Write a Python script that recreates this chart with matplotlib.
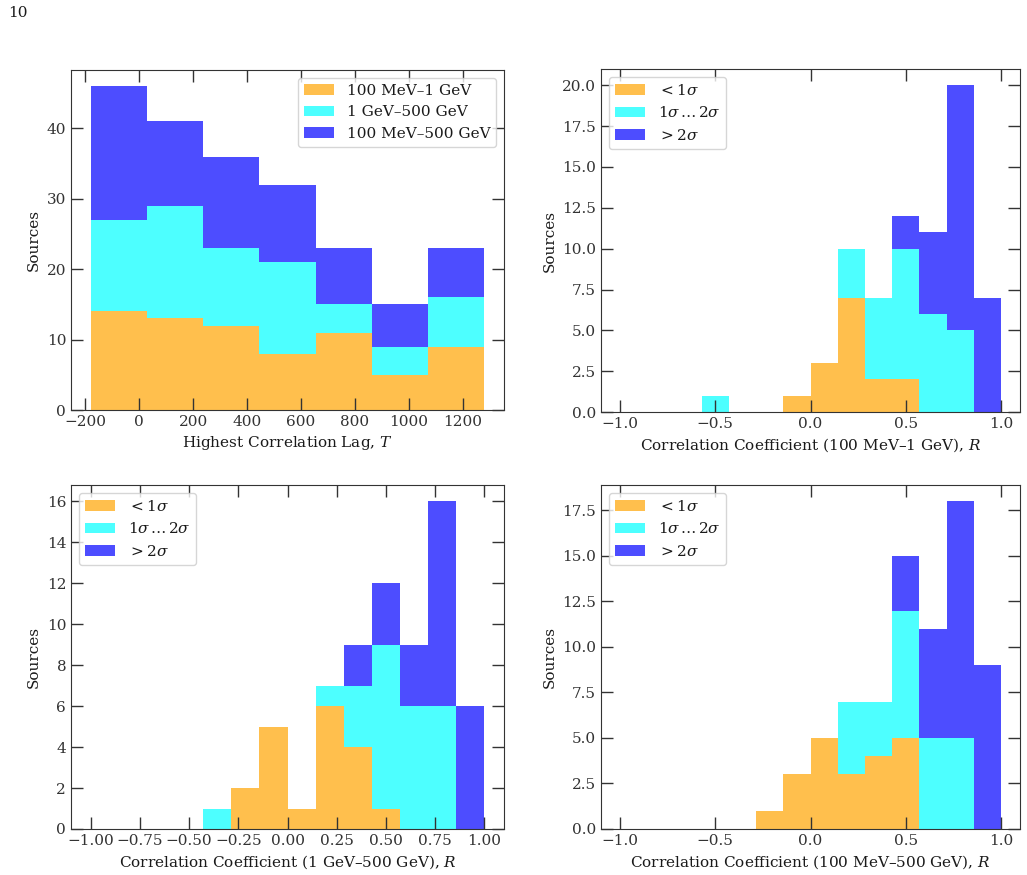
import numpy as np
import matplotlib.pyplot as plt

plt.rcParams['font.family'] = 'DejaVu Serif'
plt.rcParams['mathtext.fontset'] = 'dejavuserif'
plt.rcParams['font.size'] = 11
plt.rcParams['axes.edgecolor'] = '0.2'
plt.rcParams['xtick.color'] = '0.2'
plt.rcParams['ytick.color'] = '0.2'
plt.rcParams['text.color'] = '0.1'
plt.rcParams['axes.labelcolor'] = '0.1'

# highest correlation lag, T (7 bins)
lag_edges = np.linspace(-180, 1280, 8)
lag_low = [14, 13, 12, 8, 11, 5, 9]      # 100 MeV-1 GeV
lag_high = [13, 16, 11, 13, 4, 4, 7]     # 1 GeV-500 GeV
lag_all = [19, 12, 13, 11, 8, 6, 7]      # 100 MeV-500 GeV
lag_labels = ['100 MeV–1 GeV', '1 GeV–500 GeV', '100 MeV–500 GeV']

# correlation coefficient, R (14 bins from -1 to 1)
r_edges = np.linspace(-1, 1, 15)
# 100 MeV-1 GeV
r1_lt1 = [0, 0, 0, 0, 0, 0, 1, 3, 7, 2, 2, 0, 0, 0]
r1_mid = [0, 0, 0, 1, 0, 0, 0, 0, 3, 5, 8, 6, 5, 0]
r1_gt2 = [0, 0, 0, 0, 0, 0, 0, 0, 0, 0, 2, 5, 15, 7]
# 1 GeV-500 GeV
r2_lt1 = [0, 0, 0, 0, 0, 2, 5, 1, 6, 4, 1, 0, 0, 0]
r2_mid = [0, 0, 0, 0, 1, 0, 0, 0, 1, 3, 8, 6, 6, 0]
r2_gt2 = [0, 0, 0, 0, 0, 0, 0, 0, 0, 2, 3, 3, 10, 6]
# 100 MeV-500 GeV
r3_lt1 = [0, 0, 0, 0, 0, 1, 3, 5, 3, 4, 5, 0, 0, 0]
r3_mid = [0, 0, 0, 0, 0, 0, 0, 0, 4, 3, 7, 5, 5, 0]
r3_gt2 = [0, 0, 0, 0, 0, 0, 0, 0, 0, 0, 3, 6, 13, 9]
sig_labels = [r'$<1\sigma$', r'$1\sigma\,\ldots\,2\sigma$', r'$>2\sigma$']

colors = [(1.0, 0.75, 0.3), (0.3, 1.0, 1.0), (0.3, 0.3, 1.0)]


def stacked_hist(ax, edges, layers, labels, loc):
    bottom = np.zeros(len(edges) - 1)
    for counts, c, lab in zip(layers, colors, labels):
        counts = np.array(counts, dtype=float)
        ax.bar(edges[:-1], counts, width=np.diff(edges), align='edge',
               bottom=bottom, color=c, linewidth=0, label=lab)
        bottom = bottom + counts
    ax.tick_params(direction='in', top=True, right=True, length=8.5, width=1,
                   labelsize=11)
    ax.set_ylabel('Sources')
    ax.legend(loc=loc, fontsize=11)


fig = plt.figure(figsize=(10.27, 8.75), dpi=100)
W, H = 1027, 875
ax1 = fig.add_axes([71 / W, 1 - 410 / H, 433 / W, 340 / H])
ax2 = fig.add_axes([601 / W, 1 - 412 / H, 419 / W, 343 / H])
ax3 = fig.add_axes([71 / W, 1 - 829 / H, 433 / W, 344 / H])
ax4 = fig.add_axes([601 / W, 1 - 829 / H, 419 / W, 344 / H])

stacked_hist(ax1, lag_edges, [lag_low, lag_high, lag_all], lag_labels, 'upper right')
ax1.set_xlabel('Highest Correlation Lag, $T$')
ax1.set_xticks(np.arange(-200, 1201, 200))

stacked_hist(ax2, r_edges, [r1_lt1, r1_mid, r1_gt2], sig_labels, 'upper left')
ax2.set_xlabel('Correlation Coefficient (100 MeV–1 GeV), $R$')
ax2.set_xticks(np.arange(-1, 1.01, 0.5))

stacked_hist(ax3, r_edges, [r2_lt1, r2_mid, r2_gt2], sig_labels, 'upper left')
ax3.set_xlabel('Correlation Coefficient (1 GeV–500 GeV), $R$')
ax3.set_xticks(np.arange(-1, 1.01, 0.25))

stacked_hist(ax4, r_edges, [r3_lt1, r3_mid, r3_gt2], sig_labels, 'upper left')
ax4.set_xlabel('Correlation Coefficient (100 MeV–500 GeV), $R$')
ax4.set_xticks(np.arange(-1, 1.01, 0.5))

fig.text(8 / W, 1 - 13 / H, '10', fontsize=11, va='center', ha='left')

fig.savefig('out.png', dpi=100)
